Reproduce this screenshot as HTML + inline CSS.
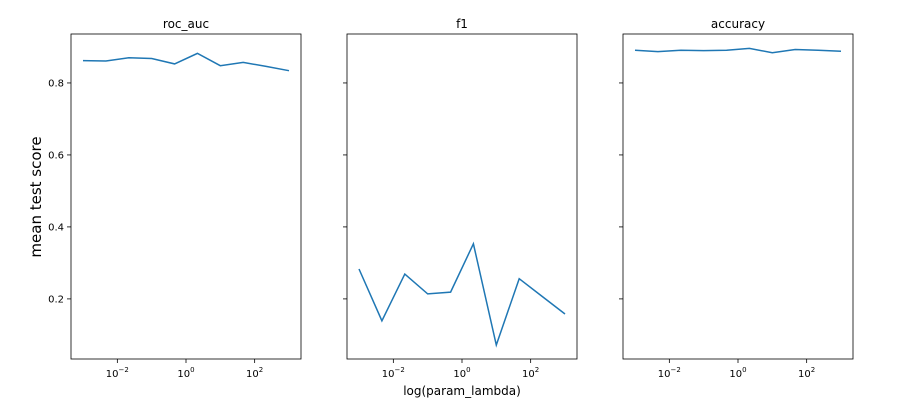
<!DOCTYPE html>
<html><head><meta charset="utf-8"><style>
body{margin:0;background:#fff;}
svg text{font-family:"DejaVu Sans","Liberation Sans",sans-serif;fill:#000;}
</style></head><body>
<svg id="chart" width="901" height="415" xmlns="http://www.w3.org/2000/svg">
<rect width="901" height="415" fill="#fff"/>
</svg>
<script>
const lambdaExp = [-3, -2.333, -1.667, -1, -0.333, 0.333, 1, 1.667, 2.333, 3];
const rocAuc = [0.862, 0.861, 0.870, 0.868, 0.853, 0.882, 0.848, 0.857, 0.846, 0.834];
const f1 = [0.283, 0.139, 0.269, 0.214, 0.219, 0.353, 0.072, 0.256, 0.207, 0.158];
const accuracy = [0.891, 0.887, 0.891, 0.890, 0.891, 0.896, 0.884, 0.893, 0.891, 0.888];
const yTicks = [0.2, 0.4, 0.6, 0.8];
const xTickExps = [-2, 0, 2];
const titles = ["roc_auc", "f1", "accuracy"];

const NS = "http://www.w3.org/2000/svg";
const svg = document.getElementById("chart");
const panelsX = [71, 347, 623], W = 230, TOP = 34, BOT = 359;
const xMin = -3.35, xMax = 3.35, yMin = 0.033, yMax = 0.936;
function mk(tag, attrs, parent){const e=document.createElementNS(NS,tag);for(const k in attrs)e.setAttribute(k,attrs[k]);(parent||svg).appendChild(e);return e;}
function yPos(v){return BOT-(v-yMin)/(yMax-yMin)*(BOT-TOP);}
const series=[rocAuc,f1,accuracy];
panelsX.forEach((x0,i)=>{
  const g=mk("g",{});
  
  
  const xPos=e=>x0+(e-xMin)/(xMax-xMin)*W;
  const pts=lambdaExp.map((e,j)=>xPos(e).toFixed(1)+","+yPos(series[i][j]).toFixed(1)).join(" ");
  const pl=mk("polyline",{points:pts,fill:"none",stroke:"#1f77b4","stroke-width":1.5},g);
  
  
  const fr=mk("rect",{x:x0,y:TOP,width:W,height:BOT-TOP,fill:"none",stroke:"#000","stroke-width":0.8},g);
  
  
  yTicks.forEach(t=>{
    const y=yPos(t);
    mk("line",{x1:x0-4,x2:x0,y1:y,y2:y,stroke:"#000","stroke-width":0.8},g);
    if(i===0){
      const tx=mk("text",{x:x0-7,y:y+3.5,"font-size":10,"text-anchor":"end"},g);
      tx.textContent=t.toFixed(1);
      
      
    }
  });
  xTickExps.forEach(e=>{
    const x=xPos(e);
    mk("line",{x1:x,x2:x,y1:BOT,y2:BOT+4,stroke:"#000","stroke-width":0.8},g);
    const tx=mk("text",{x:x,y:BOT+18,"font-size":10,"text-anchor":"middle"},g);
    tx.innerHTML='10<tspan dy="-5" font-size="7">'+(e<0?'\u2212'+(-e):e)+'</tspan>';
    
    
  });
  const tt=mk("text",{x:x0+W/2,y:TOP-6,"font-size":12,"text-anchor":"middle"},g);
  tt.textContent=titles[i];
  
  
});
const xl=mk("text",{x:462,y:395,"font-size":12,"text-anchor":"middle"});
xl.textContent="log(param_lambda)";


const yl=mk("text",{x:0,y:0,"font-size":15,"text-anchor":"middle",transform:"translate(41,197) rotate(-90)"});
yl.textContent="mean test score";


</script>
</body></html>
